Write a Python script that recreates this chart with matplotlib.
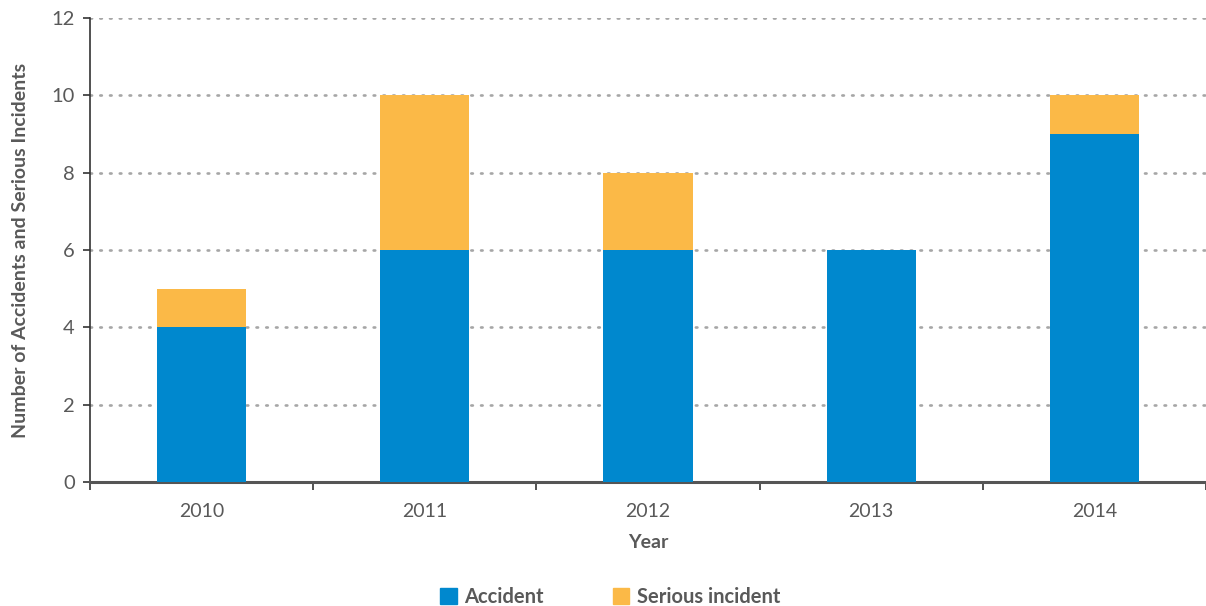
import matplotlib
matplotlib.use("Agg")
import matplotlib.pyplot as plt
import numpy as np
from matplotlib.patches import Patch

years = ["2010", "2011", "2012", "2013", "2014"]
accident = [4, 6, 6, 6, 9]
serious = [1, 4, 2, 0, 1]

blue = "#0088CE"
orange = "#FBB947"
txt = "#595959"

plt.rcParams['font.family'] = ['Lato', 'DejaVu Sans']

fig = plt.figure(figsize=(12.06, 6.06), dpi=100)
ax = fig.add_axes([90/1206, 124/606, 1116/1206, 464/606])

x = np.arange(len(years))
w = 0.4
ax.bar(x, accident, width=w, color=blue, zorder=3)
ax.bar(x, serious, width=w, bottom=accident, color=orange, zorder=3)

ax.set_xlim(-0.5, -0.5 + 1116/225)
ax.set_ylim(0, 12)
ax.set_yticks(range(0, 13, 2))
ax.yaxis.grid(True, linestyle=(0, (0.6, 3.1)), color="#a6a6a6", linewidth=1.9,
              dash_capstyle='round', zorder=1)
ax.spines['top'].set_visible(False)
ax.spines['right'].set_visible(False)
ax.spines['left'].set_color("#333333")
ax.spines['left'].set_linewidth(1.2)
ax.spines['bottom'].set_color("#555555")
ax.spines['bottom'].set_linewidth(2.2)

ax.set_xticks(x)
ax.set_xticklabels(years)
ax.set_xticks(np.arange(-0.5, 4.6, 1), minor=True)
ax.tick_params(axis='x', which='major', length=0, pad=15, labelsize=14, labelcolor=txt)
ax.tick_params(axis='x', which='minor', length=6, width=1.2, color="#333333", direction='out')
ax.tick_params(axis='y', length=5, width=1.2, color="#333333", pad=6, labelsize=14.5, labelcolor=txt)

ax.set_xlabel("Year", fontsize=14, fontweight='bold', color=txt, labelpad=10)
ax.set_ylabel("Number of Accidents and Serious Incidents", fontsize=14,
              fontweight='bold', color=txt, labelpad=16)

handles = [Patch(color=blue, label="Accident"), Patch(color=orange, label="Serious incident")]
fig.legend(handles=handles, loc='center', bbox_to_anchor=(0.506, 9/606), ncol=2,
           frameon=False, handlelength=0.8, handleheight=0.8, columnspacing=3.4,
           handletextpad=0.4, prop={'weight': 'bold', 'size': 14.5}, labelcolor=txt)

fig.savefig("out.png", dpi=100)
